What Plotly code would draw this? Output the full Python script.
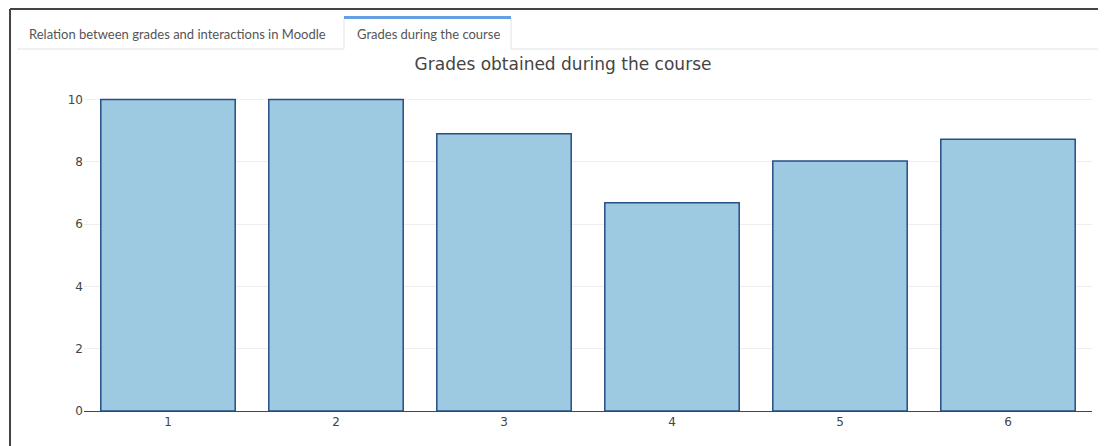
import plotly.graph_objects as go

categories = ["1", "2", "3", "4", "5", "6"]
grades = [10, 10, 8.9, 6.68, 8.02, 8.72]
tab_labels = ["Relation between grades and interactions in Moodle", "Grades during the course"]
chart_title = "Grades obtained during the course"

OFF = 8  # page body margin
W, H = 1106 - OFF, 446 - OFF
PLOT_L, PLOT_R, PLOT_T, PLOT_B = 84, 1092, 83, 411  # in page pixels
ML, MR, MT, MB = PLOT_L - OFF, (W + OFF) - PLOT_R, PLOT_T - OFF, (H + OFF) - PLOT_B
PW, PH = W - ML - MR, H - MT - MB


def px(x):
    return (x - PLOT_L) / PW


def py(y):
    return (PLOT_B - y) / PH


fig = go.Figure(go.Bar(
    x=categories, y=grades,
    marker=dict(color="rgb(158,202,225)", line=dict(color="rgb(38,78,135)", width=1.5)),
))

line_grey = "#dee2e6"
shapes = [
    # outer container border
    dict(type="line", xref="paper", yref="paper", x0=px(10), x1=px(10), y0=py(9), y1=py(470), line=dict(color="#444", width=2)),
    dict(type="line", xref="paper", yref="paper", x0=px(10), x1=px(1120), y0=py(9), y1=py(9), line=dict(color="#444", width=2)),
    # tab bar bottom line
    dict(type="line", xref="paper", yref="paper", x0=px(17), x1=px(344), y0=py(49), y1=py(49), line=dict(color=line_grey, width=1)),
    dict(type="line", xref="paper", yref="paper", x0=px(511), x1=px(1120), y0=py(49), y1=py(49), line=dict(color=line_grey, width=1)),
    # active tab sides
    dict(type="line", xref="paper", yref="paper", x0=px(344), x1=px(344), y0=py(18), y1=py(49), line=dict(color=line_grey, width=1)),
    dict(type="line", xref="paper", yref="paper", x0=px(511), x1=px(511), y0=py(18), y1=py(49), line=dict(color=line_grey, width=1)),
    # active tab top highlight
    dict(type="line", xref="paper", yref="paper", x0=px(344), x1=px(511), y0=py(17.5), y1=py(17.5), line=dict(color="#64a0e2", width=3)),
]

annotations = [
    dict(text=tab_labels[0], xref="paper", yref="paper", x=px(27), y=py(34), xanchor="left", yanchor="middle",
         showarrow=False, font=dict(family="Lato", size=13, color="#555")),
    dict(text=tab_labels[1], xref="paper", yref="paper", x=px(428), y=py(34), xanchor="center", yanchor="middle",
         showarrow=False, font=dict(family="Lato", size=13, color="#555")),
]

fig.update_layout(
    width=W, height=H,
    margin=dict(l=ML, r=MR, t=MT, b=MB, pad=0),
    paper_bgcolor="white", plot_bgcolor="white",
    title=dict(text=chart_title, x=(563 - OFF) / W, xref="container", xanchor="center",
               y=1 - (64 - OFF) / H, yref="container", yanchor="middle",
               font=dict(family="DejaVu Sans", size=17, color="#444")),
    font=dict(family="DejaVu Sans", size=12, color="#444"),
    bargap=0.2,
    showlegend=False,
    shapes=shapes,
    annotations=annotations,
    xaxis=dict(showline=True, linecolor="#444", linewidth=1, showgrid=False, ticks="",
               tickfont=dict(size=12, color="#444")),
    yaxis=dict(range=[0, 10.5263], dtick=2, showgrid=True, gridcolor="#eee", gridwidth=1,
               zeroline=True, zerolinecolor="#444", zerolinewidth=1, showline=False,
               tickfont=dict(size=12, color="#444")),
)

fig.write_html("out.html")
